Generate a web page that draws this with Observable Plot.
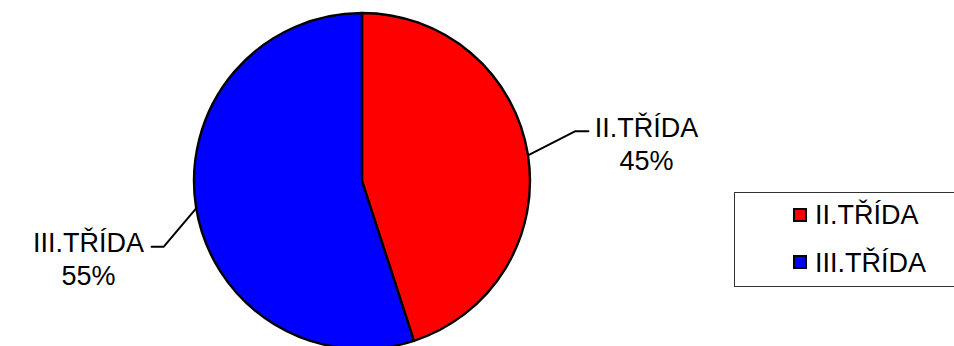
<!DOCTYPE html>
<html><head><meta charset="utf-8">
<script src="https://cdn.jsdelivr.net/npm/d3@7"></script>
<script src="https://cdn.jsdelivr.net/npm/@observablehq/plot@0.6"></script>
<style>
html,body{margin:0;padding:0;background:#fff;overflow:hidden;}
#wrap{position:relative;width:954px;height:346px;font-family:"Liberation Sans",Arial,sans-serif;}
#wrap svg{position:absolute;left:0;top:0;}
.legend{position:absolute;left:734px;top:192px;width:260px;height:95px;border:1px solid #333;box-sizing:border-box;background:#fff;}
.sw{position:absolute;width:10px;height:10px;border:2px solid #000;}
.lab{position:absolute;font-size:27px;line-height:30px;height:30px;color:#000;white-space:nowrap;}
</style></head><body><div id="wrap"></div>
<script>
const categories = ["II.TŘÍDA", "III.TŘÍDA"];
const values = [45, 55];
const percentLabels = ["45%", "55%"];
const colors = ["#ff0000", "#0000ff"];

const W = 954, H = 346;
const cx = 362, cy = 181, R = 168;
// leader-line layout: [elbow dx, elbow dy, horizontal run, label center offset]
const leaderLayout = [[47, -24, 13, 58], [-33, 39, -12, -63]];

const data = categories.map((c, i) => ({category: c, value: values[i], pct: percentLabels[i], color: colors[i]}));
const arcs = d3.pie().sort(null).value(d => d.value)(data);
const arcGen = d3.arc().innerRadius(0).outerRadius(R);

const leaders = [];
const labels = [];
arcs.forEach((a, i) => {
  const m = (a.startAngle + a.endAngle) / 2;
  const x0 = cx + R * Math.sin(m), y0 = cy - R * Math.cos(m);
  const [dx, dy, h, off] = leaderLayout[i];
  const x1 = x0 + dx, y1 = y0 + dy, x2 = x1 + h;
  leaders.push({k: i, x: x0, y: y0}, {k: i, x: x1, y: y1}, {k: i, x: x2, y: y1});
  labels.push({x: x2 + off, y: y1 - 18, text: a.data.category + "\n" + a.data.pct});
});

const pieMark = (index, scales) => {
  const sx = scales && scales.x ? scales.x : (v => v);
  const sy = scales && scales.y ? scales.y : (v => v);
  const g = d3.create("svg:g").attr("transform", `translate(${sx(cx)},${sy(cy)})`);
  g.selectAll("path").data(arcs).join("path")
    .attr("d", arcGen)
    .attr("fill", d => d.data.color)
    .attr("stroke", "#000")
    .attr("stroke-width", 2.4)
    .attr("stroke-linejoin", "round");
  return g.node();
};

const chart = Plot.plot({
  width: W, height: H,
  margin: 0,
  x: {domain: [0, W], range: [0, W], axis: null},
  y: {domain: [0, H], range: [0, H], axis: null},
  style: {fontFamily: "'Liberation Sans', Arial, sans-serif", background: "transparent"},
  marks: [
    pieMark,
    Plot.line(leaders, {x: "x", y: "y", z: "k", stroke: "#000", strokeWidth: 2}),
    Plot.text(labels, {x: "x", y: "y", text: "text", fontSize: 27, lineHeight: 1.22, fill: "#000", textAnchor: "middle", lineAnchor: "top"})
  ]
});

const wrap = document.getElementById("wrap");
wrap.appendChild(chart);

const legend = document.createElement("div");
legend.className = "legend";
wrap.appendChild(legend);
data.forEach((d, i) => {
  const sw = document.createElement("div");
  sw.className = "sw";
  sw.style.left = "793px";
  sw.style.top = (208 + i * 47) + "px";
  sw.style.background = d.color;
  const lb = document.createElement("div");
  lb.className = "lab";
  lb.style.left = "815px";
  lb.style.top = (200 + i * 48) + "px";
  lb.textContent = d.category;
  wrap.appendChild(sw); wrap.appendChild(lb);
});
</script></body></html>
